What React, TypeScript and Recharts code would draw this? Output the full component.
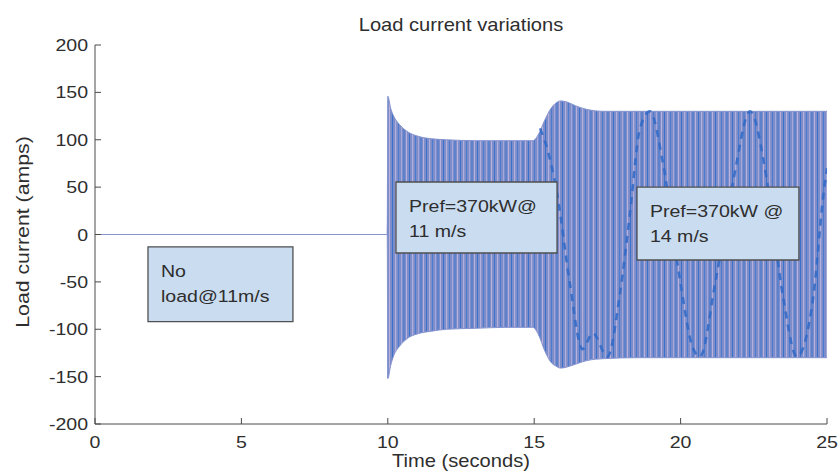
import React from 'react';
import { ComposedChart, Area, Line, XAxis, YAxis, ReferenceArea } from 'recharts';

// Envelope of the load current (amps) against time (s)
const envTime = [0, 9.98, 10, 10.1, 10.2, 10.4, 10.7, 11, 11.5, 12, 13, 14, 14.95, 15.15, 15.35, 15.55, 15.75, 15.9, 16.1, 16.4, 16.8, 17.4, 18.5, 20, 22, 25];
const envUpper = [0, 0, 146, 133, 125, 116, 108, 104, 101, 100, 99, 99, 99, 106, 120, 132, 139, 141, 140, 136, 132, 130, 130, 130, 130, 130];
const envLower = [0, 0, -152, -138, -128, -118, -109, -105, -102, -100, -99, -98, -98, -106, -122, -134, -139, -141, -140, -137, -133, -131, -130, -130, -130, -130];

// Slow beat visible through the carrier after the second step
const beatTime = [15.2, 15.4, 15.8, 16.2, 16.65, 17.0, 17.5, 17.93, 18.27, 18.6, 18.95, 19.4, 19.98, 20.4, 20.66, 21.2, 21.8, 22.37, 22.95, 23.5, 23.97, 24.53, 24.87, 25];
const beatValue = [112, 95, 40, -48, -121, -104, -129, -62, 22, 110, 130, 75, -48, -118, -129, -48, 57, 130, 57, -66, -129, -66, 40, 70];

// Idle period before the load is connected
const idleTime = [0, 10];
const idleValue = [0, 0];

const xTicks = [0, 5, 10, 15, 20, 25];
const yTicks = [-200, -150, -100, -50, 0, 50, 100, 150, 200];

const notes = [
  { x1: 1.81, x2: 6.76, y1: -92, y2: -13, lines: ['No', 'load@11m/s'] },
  { x1: 10.28, x2: 15.78, y1: -19.5, y2: 55.4, lines: ['Pref=370kW@', '11 m/s'] },
  { x1: 18.51, x2: 24.04, y1: -26.9, y2: 50.1, lines: ['Pref=370kW @', '14 m/s'] },
];

const FONT = '"Liberation Sans", Arial, Helvetica, sans-serif';
const INK = '#2e2e2e';
const FRAME = '#4a4a4a';
const SX = 1.15;
const TICK = 6;

type Row = { t: number; band?: [number, number]; beat?: number; idle?: number };

const rowMap = new Map<number, Row>();
const rowAt = (t: number): Row => {
  if (!rowMap.has(t)) rowMap.set(t, { t });
  return rowMap.get(t)!;
};
envTime.forEach((t, i) => { rowAt(t).band = [envLower[i], envUpper[i]]; });
beatTime.forEach((t, i) => { rowAt(t).beat = beatValue[i]; });
idleTime.forEach((t, i) => { rowAt(t).idle = idleValue[i]; });
const rows = Array.from(rowMap.values()).sort((a, b) => a.t - b.t);

const Label = ({ x, y, anchor, size = 17, children }: any) => (
  <text
    transform={`translate(${x},${y}) scale(${SX},1)`}
    textAnchor={anchor}
    fontFamily={FONT}
    fontSize={size}
    fill={INK}
  >
    {children}
  </text>
);

const BottomTick = ({ x, y, payload }: any) => (
  <g>
    <line x1={x} x2={x} y1={y} y2={y - TICK} stroke={FRAME} strokeWidth={1} />
    <Label x={x} y={y + 24} anchor="middle">{payload.value}</Label>
  </g>
);

const TopTick = ({ x, y }: any) => (
  <line x1={x} x2={x} y1={y} y2={y + TICK} stroke={FRAME} strokeWidth={1} />
);

const LeftTick = ({ x, y, payload }: any) => (
  <g>
    <line x1={x} x2={x + TICK} y1={y} y2={y} stroke={FRAME} strokeWidth={1} />
    <Label x={x - 7} y={y + 6} anchor="end">{payload.value}</Label>
  </g>
);

const RightTick = ({ x, y }: any) => (
  <line x1={x} x2={x - TICK} y1={y} y2={y} stroke={FRAME} strokeWidth={1} />
);

const NoteText = ({ viewBox, lines }: any) => {
  if (!viewBox) return null;
  return (
    <g>
      {lines.map((s: string, i: number) => (
        <Label key={i} x={viewBox.x + 13} y={viewBox.y + 30 + i * 25} anchor="start">{s}</Label>
      ))}
    </g>
  );
};

export default function App() {
  return (
    <div style={{ position: 'absolute', left: 0, top: 0, width: 840, height: 476, background: '#fff' }}>
      <ComposedChart
        width={840}
        height={476}
        data={rows}
        margin={{ top: 45, right: 13, bottom: 0, left: 0 }}
      >
        <defs>
          <pattern id="carrier" x="0" y="0" width="17" height="10" patternUnits="userSpaceOnUse">
            <rect x="0" y="0" width="17" height="10" fill="#7d8dca" />
            <rect x="1" y="0" width="1" height="10" fill="#3a72cb" />
            <rect x="4" y="0" width="1.2" height="10" fill="#b3b0dd" />
            <rect x="7" y="0" width="1" height="10" fill="#4a7bcf" />
            <rect x="10" y="0" width="1" height="10" fill="#a4a8da" />
            <rect x="12.5" y="0" width="1" height="10" fill="#3c75cd" />
            <rect x="15" y="0" width="1" height="10" fill="#bab2dc" />
          </pattern>
        </defs>
        <XAxis
          dataKey="t"
          type="number"
          domain={[0, 25]}
          ticks={xTicks}
          interval={0}
          height={52}
          tickSize={0}
          tickMargin={0}
          tickLine={false}
          tick={<BottomTick />}
          axisLine={{ stroke: FRAME, strokeWidth: 1 }}
          allowDataOverflow
        />
        <XAxis
          xAxisId="top"
          orientation="top"
          dataKey="t"
          type="number"
          domain={[0, 25]}
          ticks={xTicks}
          interval={0}
          height={0}
          tickSize={0}
          tickMargin={0}
          tickLine={false}
          tick={<TopTick />}
          axisLine={{ stroke: FRAME, strokeWidth: 1 }}
          allowDataOverflow
        />
        <YAxis
          type="number"
          domain={[-200, 200]}
          ticks={yTicks}
          interval={0}
          width={95}
          tickSize={0}
          tickMargin={0}
          tickLine={false}
          tick={<LeftTick />}
          axisLine={{ stroke: FRAME, strokeWidth: 1 }}
          allowDataOverflow
        />
        <YAxis
          yAxisId="right"
          orientation="right"
          type="number"
          domain={[-200, 200]}
          ticks={yTicks}
          interval={0}
          width={0}
          tickSize={0}
          tickMargin={0}
          tickLine={false}
          tick={<RightTick />}
          axisLine={{ stroke: FRAME, strokeWidth: 1 }}
          allowDataOverflow
        />
        <Area
          dataKey="band"
          type="monotone"
          stroke="#8593cf"
          strokeWidth={1}
          fill="url(#carrier)"
          fillOpacity={1}
          connectNulls
          isAnimationActive={false}
          dot={false}
          activeDot={false}
        />
        <Line
          dataKey="idle"
          type="linear"
          stroke="#6e95da"
          strokeWidth={2}
          dot={false}
          activeDot={false}
          connectNulls={false}
          isAnimationActive={false}
        />
        <Line
          dataKey="beat"
          type="monotone"
          stroke="#2f68c6"
          strokeWidth={2.6}
          strokeDasharray="7 6"
          strokeOpacity={0.85}
          dot={false}
          activeDot={false}
          connectNulls
          isAnimationActive={false}
        />
        {notes.map((n, i) => (
          <ReferenceArea
            key={i}
            x1={n.x1}
            x2={n.x2}
            y1={n.y1}
            y2={n.y2}
            fill="#c9dcf0"
            fillOpacity={1}
            stroke="#4f4f4f"
            strokeWidth={1.3}
            zIndex={1500}
            label={<NoteText lines={n.lines} />}
          />
        ))}
      </ComposedChart>
      <svg
        width={840}
        height={476}
        style={{ position: 'absolute', left: 0, top: 0, pointerEvents: 'none' }}
      >
        <Label x={461} y={31} anchor="middle" size={17.5}>Load current variations</Label>
        <Label x={461} y={467} anchor="middle" size={17.5}>Time (seconds)</Label>
        <g transform="translate(29,232) rotate(-90)">
          <Label x={0} y={0} anchor="middle" size={18.5}>Load current (amps)</Label>
        </g>
      </svg>
    </div>
  );
}
